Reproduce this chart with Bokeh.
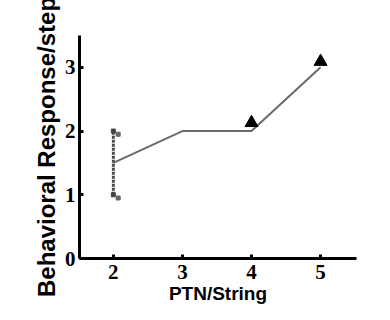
from bokeh.plotting import figure
from bokeh.models import Range1d, FixedTicker
from bokeh.embed import file_html
from bokeh.resources import INLINE

# data
ptn = [2, 3, 4, 5]
response = [1.5, 2.0, 2.0, 3.0]
err_x = [2]
err_lo = [1.0]
err_hi = [2.0]
tri_x = [4, 5]
tri_y = [2.13, 3.09]
x_ticks = [2, 3, 4, 5]
y_ticks = [0, 1, 2, 3]

p = figure(width=390, height=320, output_backend="svg", toolbar_location=None,
           x_range=Range1d(1.51, 5.52), y_range=Range1d(0, 3.5),
           min_border_left=79, min_border_right=34, min_border_top=35, min_border_bottom=62)
p.outline_line_color = None
p.grid.visible = False
p.background_fill_color = "white"

# error bar at x=2
p.segment(x0=err_x, y0=err_lo, x1=err_x, y1=err_hi, line_color="#4a4a4a",
          line_width=3, line_dash="3 1")
p.scatter(x=err_x * 2, y=err_lo + err_hi, marker="square", size=4,
          color="#444444")
p.scatter(x=[v + 0.07 for v in err_x] * 2, y=[v - 0.05 for v in err_lo + err_hi],
          marker="square", size=4, color="#666666")

# mean line
p.line(ptn, response, line_color="#6a6a6a", line_width=2)

# triangle markers
p.scatter(tri_x, tri_y, marker="triangle", size=13, color="black")

for ax in (p.xaxis[0], p.yaxis[0]):
    ax.axis_line_width = 3
    ax.axis_line_color = "black"
    ax.major_tick_line_width = 3
    ax.major_tick_in = 4
    ax.major_tick_out = 0
    ax.minor_tick_line_color = None
    ax.major_label_text_font = "Liberation Serif"
    ax.major_label_text_font_style = "bold"
    ax.major_label_text_font_size = "21px"
    ax.major_label_text_color = "black"
    ax.axis_label_text_font = "Liberation Sans"
    ax.axis_label_text_font_style = "bold"
    ax.axis_label_text_color = "black"

p.xaxis.ticker = FixedTicker(ticks=x_ticks)
p.yaxis.ticker = FixedTicker(ticks=y_ticks)
p.xaxis.axis_label = "PTN/String"
p.xaxis.axis_label_text_font_size = "19px"
p.xaxis.major_label_standoff = 6
p.xaxis.axis_label_standoff = 1
p.yaxis.axis_label = "Behavioral Response/step"
p.yaxis.axis_label_text_font_size = "24px"
p.yaxis.major_label_standoff = 4
p.yaxis.axis_label_standoff = 2

open("out.html", "w").write(file_html(p, INLINE))
